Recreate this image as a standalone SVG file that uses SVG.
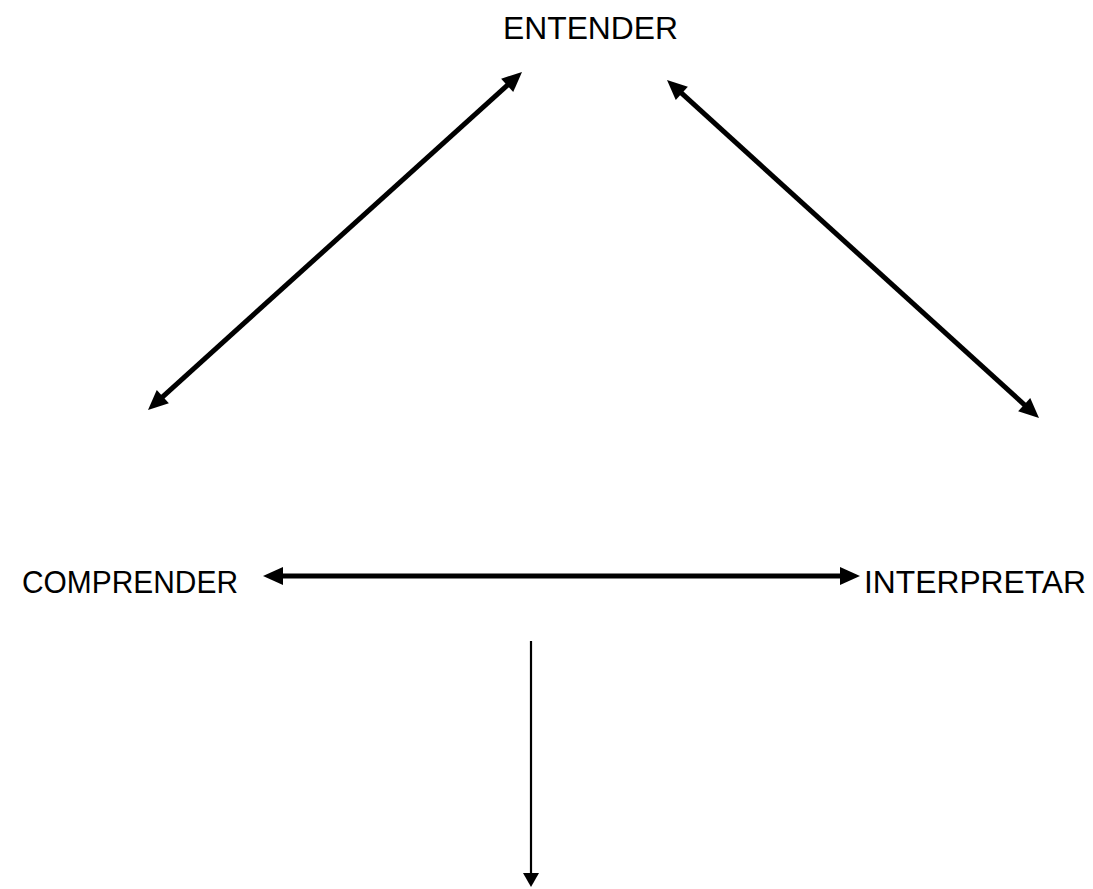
<svg xmlns="http://www.w3.org/2000/svg" width="1093" height="889" viewBox="0 0 1093 889">
  <style>
    .lbl { font-family: "Liberation Sans", Arial, sans-serif; font-size: 31px; fill: #000; }
    .thick { stroke: #000; stroke-width: 5; fill: none; marker-start: url(#ah); marker-end: url(#ah); }
    .thin { stroke: #000; stroke-width: 2.2; fill: none; marker-end: url(#ahs); }
  </style>
  <defs>
    <marker id="ah" markerUnits="userSpaceOnUse" markerWidth="22" markerHeight="20" refX="10" refY="9" orient="auto-start-reverse" overflow="visible">
      <path d="M0,0 L20,9 L0,18 z" fill="#000"/>
    </marker>
    <marker id="ahs" markerUnits="userSpaceOnUse" markerWidth="18" markerHeight="18" refX="4" refY="8" orient="auto" overflow="visible">
      <path d="M0,0 L14,8 L0,16 z" fill="#000"/>
    </marker>
  </defs>
  <rect width="1093" height="889" fill="#fff"/>
  <g id="connectors">
    <line class="thick" x1="155.4" y1="403.3" x2="514.6" y2="78.7"/>
    <line class="thick" x1="674.4" y1="86.7" x2="1031.6" y2="411.3"/>
    <line class="thick" x1="273" y1="576" x2="850" y2="576"/>
    <line class="thin" x1="531" y1="641" x2="531" y2="877"/>
  </g>
  <g id="entender">
    <text class="lbl" x="503" y="39" textLength="175" lengthAdjust="spacingAndGlyphs">ENTENDER</text>
  </g>
  <g id="comprender">
    <text class="lbl" x="22" y="593" textLength="216" lengthAdjust="spacingAndGlyphs">COMPRENDER</text>
  </g>
  <g id="interpretar">
    <text class="lbl" x="864" y="593" textLength="222" lengthAdjust="spacingAndGlyphs">INTERPRETAR</text>
  </g>
</svg>
